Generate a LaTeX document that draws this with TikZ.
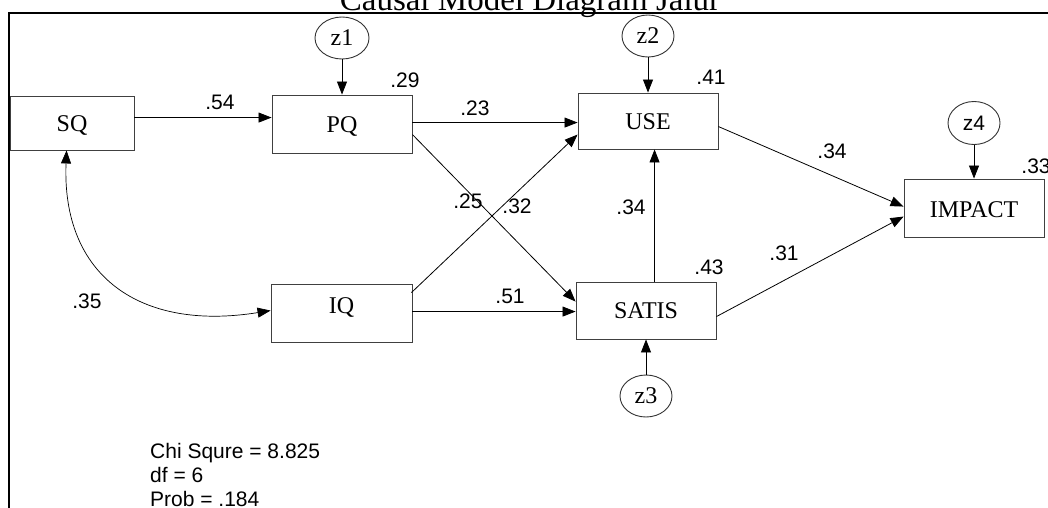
\documentclass[tikz,border=0pt]{standalone}
\usepackage{fontspec}
\setmainfont{Liberation Serif}
\setsansfont{Liberation Sans}
\usetikzlibrary{arrows.meta,calc,shapes.geometric}
\begin{document}
\begin{tikzpicture}[x=1pt,y=-1pt,
  box/.style={draw=black!75,line width=0.9pt,rectangle,inner sep=0pt,
    font=\fontsize{24}{28}\selectfont,text height=16pt,text depth=0pt},
  err/.style={draw=black!80,line width=0.9pt,ellipse,minimum width=54pt,
    minimum height=42pt,inner sep=0pt,font=\fontsize{24}{28}\selectfont},
  tip/.tip={Triangle[length=13pt,width=10pt]},
  arr/.style={line width=0.8pt,-tip},
  cov/.style={line width=0.7pt,tip-tip},
  num/.style={font=\sffamily\fontsize{21}{24}\selectfont,inner sep=0pt},
  frame/.style={line width=2pt}]
\useasboundingbox (0,0) rectangle (1048,507);
% title and frame
\node[font=\fontsize{33}{36}\selectfont,anchor=base,inner sep=0pt] (title) at (530,10) {Causal Model Diagram Jalur};
\draw[frame] (9,508) -- (9,13) -- (1049,13);
% boxes
\node[box,minimum width=124pt,minimum height=54pt] (SQ) at (72,123) {SQ};
\node[box,minimum width=140pt,minimum height=58pt] (PQ) at (342,124) {PQ};
\node[box,minimum width=140pt,minimum height=56pt] (USE) at (648,121) {USE};
\node[box,minimum width=141pt,minimum height=58pt,text height=10pt,text depth=10pt] (IQ) at (341.5,313) {IQ};
\node[box,minimum width=140pt,minimum height=57pt] (SATIS) at (646,310.5) {SATIS};
\node[box,minimum width=140pt,minimum height=58pt,text height=19pt] (IMPACT) at (974,208) {IMPACT};
% error terms
\node[err] (z1) at (342,38) {z1};
\node[err,minimum width=52pt] (z2) at (648,36) {z2};
\node[err,minimum width=52pt] (z3) at (646,396) {z3};
\node[err,minimum width=52pt,minimum height=43pt,font=\sffamily\fontsize{21}{24}\selectfont] (z4) at (974,123) {z4};
% error arrows
\draw[arr] (z1) -- (PQ.north);
\draw[arr] (z2) -- (USE.north);
\draw[arr] (z3) -- (SATIS.south);
\draw[arr] (z4) -- (IMPACT.north);
% paths
\draw[arr] ($(SQ.north east)+(0,22)$) -- ($(PQ.north west)+(0,23)$);
\draw[arr] ($(PQ.north east)+(0,28)$) -- ($(USE.north west)+(0,30)$);
\draw[arr] ($(PQ.north east)+(0,40)$) -- ($(SATIS.north west)+(0,20)$);
\draw[arr] ($(IQ.north east)+(-1,9)$) -- ($(USE.north west)+(0,42)$);
\draw[arr] ($(IQ.north east)+(0,28)$) -- ($(SATIS.north west)+(0,30)$);
\draw[arr] ($(SATIS.north west)+(79,0)$) -- ($(USE.south west)+(77,0)$);
\draw[arr] ($(USE.north east)+(0,34)$) -- ($(IMPACT.north west)+(0,28)$);
\draw[arr] ($(SATIS.north east)+(0,35)$) -- ($(IMPACT.north west)+(0,38)$);
% covariance
\coordinate (cs) at ($(SQ.south west)+(57,0)$);
\coordinate (ci) at ($(IQ.north west)+(0,27)$);
\draw[cov] (cs) .. controls ($(cs)+(-5,125)$) and ($(ci)+(-131,21)$) .. (ci);
% coefficients
\node[num] (n54) at (220,102) {.54};
\node[num] (n29) at (405,80) {.29};
\node[num] (n23) at (475,108) {.23};
\node[num] (n25) at (468,201) {.25};
\node[num] (n32) at (517,206) {.32};
\node[num] (n51) at (510,296) {.51};
\node[num] (n41) at (711,77) {.41};
\node[num] (n34a) at (631,207) {.34};
\node[num] (n34b) at (832,151) {.34};
\node[num] (n31) at (784,253) {.31};
\node[num] (n43) at (709,267) {.43};
\node[num] (n33) at (1036,166) {.33};
\node[num] (n35) at (87,301) {.35};
% fit statistics
\node[num,anchor=base west] (chi) at (150,458) {Chi Squre = 8.825};
\node[num,anchor=base west] (df) at (150,482) {df = 6};
\node[num,anchor=base west] (prob) at (150,506) {Prob = .184};
\end{tikzpicture}
\end{document}
